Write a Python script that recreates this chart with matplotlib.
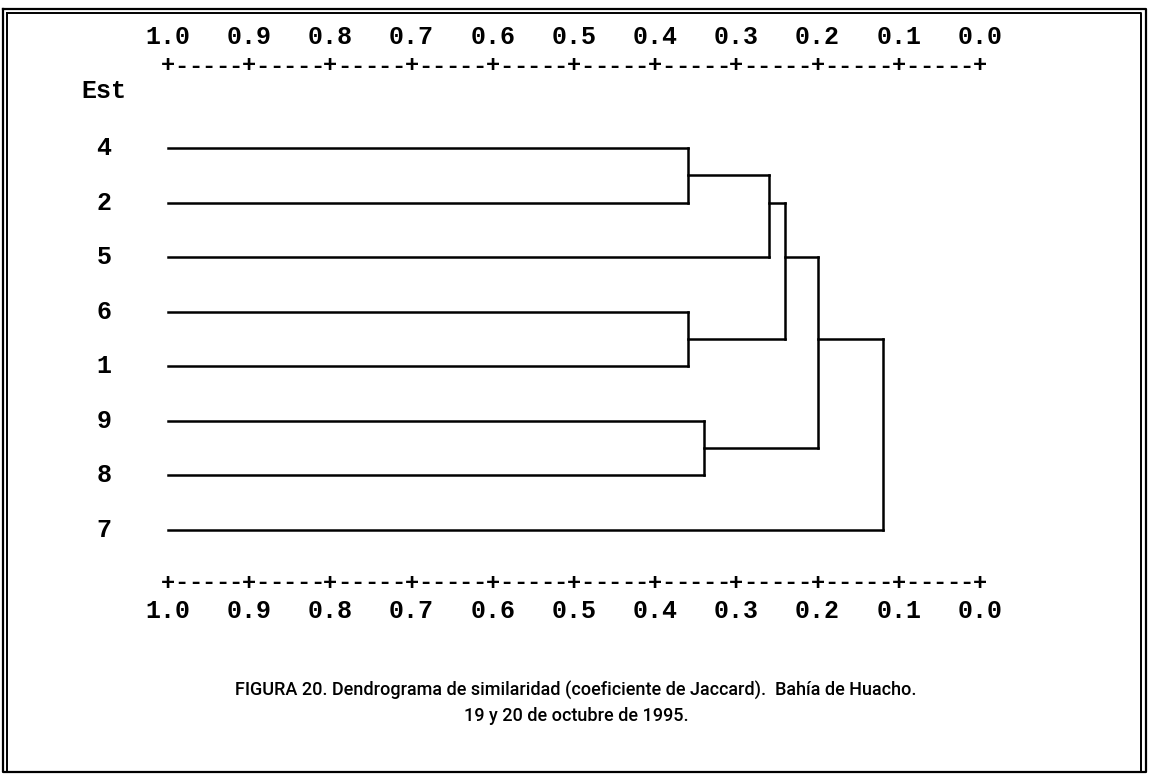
import matplotlib
matplotlib.use("Agg")
import matplotlib.pyplot as plt
from matplotlib.transforms import blended_transform_factory
from matplotlib.lines import Line2D

# ---------------- data ----------------
stations = ["4", "2", "5", "6", "1", "9", "8", "7"]          # leaf order, top to bottom
tick_values = [1.0, 0.9, 0.8, 0.7, 0.6, 0.5, 0.4, 0.3, 0.2, 0.1, 0.0]
tick_labels = ["1.0", "0.9", "0.8", "0.7", "0.6", "0.5", "0.4", "0.3", "0.2", "0.1", "0.0"]
# merges: (child_a, child_b) node ids (leaves 0..7, new nodes 8..)
merge_pairs = [(0, 1), (3, 4), (5, 6), (8, 2), (11, 9), (12, 10), (13, 7)]
merge_similarity = [0.36, 0.36, 0.34, 0.26, 0.24, 0.20, 0.12]
# row position where each new node's connector leaves (SPSS text layout)
merge_row = [0.5, 3.5, 5.5, 1.0, 2.0, 3.5, 3.5]
caption_1 = "FIGURA 20. Dendrograma de similaridad (coeficiente de Jaccard).  Bahía de Huacho."
caption_2 = "19 y 20 de octubre de 1995."

# ---------------- figure ----------------
W, H = 1150, 774
fig = plt.figure(figsize=(W / 100, H / 100), dpi=100)
fig.patch.set_facecolor("white")

def fy(py):
    return 1 - py / H

def fx(px):
    return px / W

ax = fig.add_axes([fx(168), fy(530), 812 / W, 382 / H])
ax.set_xlim(1.0, 0.0)
ax.set_ylim(len(stations) - 1, 0)
ax.axis("off")

mono = dict(family=["Liberation Mono", "DejaVu Sans Mono"], weight="bold")
lw = 1.8

# node positions
node_x = [1.0] * len(stations)
node_y = list(range(len(stations)))
for (a, b), s, r in zip(merge_pairs, merge_similarity, merge_row):
    for c in (a, b):
        ax.plot([node_x[c], s], [node_y[c], node_y[c]], color="black", lw=lw,
                solid_capstyle="projecting", clip_on=False)
    ax.plot([s, s], [node_y[a], node_y[b]], color="black", lw=lw,
            solid_capstyle="projecting", clip_on=False)
    node_x.append(s)
    node_y.append(r)

# row labels
tr_y = blended_transform_factory(fig.transFigure, ax.transData)
for i, st in enumerate(stations):
    ax.text(fx(104), i, st, transform=tr_y, ha="center", va="center",
            fontsize=18, **mono)
fig.text(fx(104), fy(91), "Est", ha="center", va="center", fontsize=18, **mono)

# ascii-style scales
tr_x = blended_transform_factory(ax.transData, fig.transFigure)

def scale(num_y, plus_y):
    for v, lab in zip(tick_values, tick_labels):
        ax.text(v, fy(num_y), lab, transform=tr_x, ha="center", va="center",
                fontsize=18, **mono)
        ax.text(v, fy(plus_y), "+", transform=tr_x, ha="center", va="center",
                fontsize=17, **mono)
    for v0, v1 in zip(tick_values[:-1], tick_values[1:]):
        for k in range(1, 6):
            xv = v0 + (v1 - v0) * k / 6
            ax.text(xv, fy(plus_y), "-", transform=tr_x, ha="center", va="center",
                    fontsize=17, **mono)

scale(37, 66)
scale(611, 583)

# caption
cap = dict(family=["Roboto", "Liberation Sans"], weight="medium", fontsize=13)
fig.text(fx(576), fy(690), caption_1, ha="center", va="center", **cap)
fig.text(fx(576), fy(716), caption_2, ha="center", va="center", **cap)

# double frame
def rect(x0, y0, x1, y1, w):
    xs = [fx(x0), fx(x1), fx(x1), fx(x0), fx(x0)]
    ys = [fy(y0), fy(y0), fy(y1), fy(y1), fy(y0)]
    fig.add_artist(Line2D(xs, ys, transform=fig.transFigure, color="black", lw=w))

rect(3, 9, 1146, 772, 1.6)
rect(7, 13, 1141, 772, 1.4)

fig.savefig("out.png", dpi=100, facecolor="white")
